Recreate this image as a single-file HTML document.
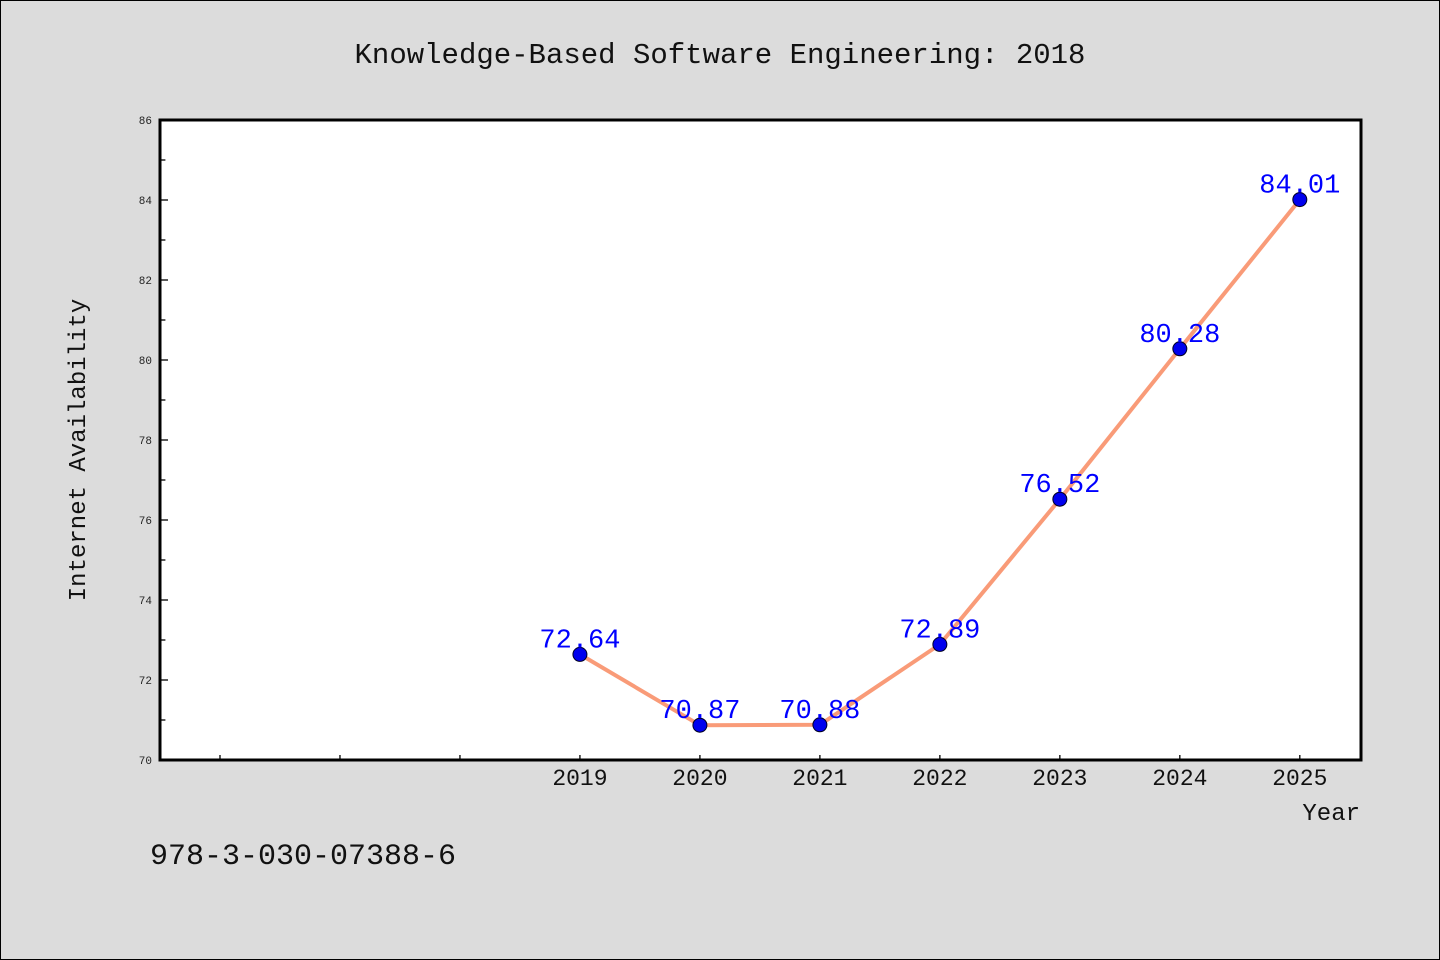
<!DOCTYPE html>
<html><head><meta charset="utf-8"><style>
html,body{margin:0;padding:0;background:#dcdcdc;}
svg{display:block;font-family:"WenQuanYi Zen Hei","Liberation Mono",monospace;}
</style></head><body>
<svg id="chart" width="1440" height="960" xmlns="http://www.w3.org/2000/svg">
<rect x="0.5" y="0.5" width="1439" height="959" fill="#dcdcdc" stroke="#000"/>
<text x="720" y="63" text-anchor="middle" font-size="29" fill="#111">Knowledge-Based Software Engineering: 2018</text>
<rect x="160" y="120" width="1201" height="640" fill="#fff"/>
<g id="yaxis"></g>
<g id="xaxis"></g>
<g id="series"></g>
<rect x="160" y="120" width="1201" height="640" fill="none" stroke="#000" stroke-width="3"/>
<text transform="translate(85,450) rotate(-90)" text-anchor="middle" font-size="24" fill="#111">Internet Availability</text>
<text x="1360" y="820" text-anchor="end" font-size="24" fill="#111">Year</text>
<text x="150" y="864" font-size="30" fill="#111">978-3-030-07388-6</text>
</svg>
<script>
const years = [2019, 2020, 2021, 2022, 2023, 2024, 2025];
const values = [72.64, 70.87, 70.88, 72.89, 76.52, 80.28, 84.01];
const valueLabels = ["72.64", "70.87", "70.88", "72.89", "76.52", "80.28", "84.01"];
const yTicks = [70, 72, 74, 76, 78, 80, 82, 84, 86];
const xTicks = [2016, 2017, 2018, 2019, 2020, 2021, 2022, 2023, 2024, 2025];
const xLabels = ["", "", "", "2019", "2020", "2021", "2022", "2023", "2024", "2025"];

const NS = "http://www.w3.org/2000/svg";
const X0 = 160, X1 = 1361, Y0 = 760, Y1 = 120;
const xMin = 2015.5, xMax = 2025.51, yMin = 70, yMax = 86;
function xs(v){ return X0 + (v - xMin) / (xMax - xMin) * (X1 - X0); }
function ys(v){ return Y0 - (v - yMin) / (yMax - yMin) * (Y0 - Y1); }
function mk(tag, attrs, parent){
  const e = document.createElementNS(NS, tag);
  for (const k in attrs) e.setAttribute(k, attrs[k]);
  parent.appendChild(e);
  return e;
}
const yg = document.getElementById('yaxis');
yTicks.forEach((t, i) => {
  const y = ys(t);
  const l = mk('line', {x1: X0, x2: X0 + 8, y1: y, y2: y, stroke: '#000', 'stroke-width': 1.3}, yg);
  
  
  if (i < yTicks.length - 1) {
    const my = ys(t + 1);
    const m = mk('line', {x1: X0, x2: X0 + 8 * 0.55 + 1, y1: my, y2: my, stroke: '#000', 'stroke-width': 1.3}, yg);
    
    
  }
  const tx = mk('text', {x: X0 - 8, y: y + 4, 'text-anchor': 'end', 'font-size': 11, fill: '#222'}, yg);
  tx.textContent = t;
  
  
});
const xg = document.getElementById('xaxis');
xTicks.forEach((t, i) => {
  const x = xs(t);
  const l = mk('line', {x1: x, x2: x, y1: Y0, y2: Y0 - 5, stroke: '#000', 'stroke-width': 1.3}, xg);
  
  
  if (xLabels[i]) {
    const tx = mk('text', {x: x, y: Y0 + 25, 'text-anchor': 'middle', 'font-size': 23, fill: '#111'}, xg);
    tx.textContent = xLabels[i];
    
    
  }
});
const sg = document.getElementById('series');
const pts = years.map((y, i) => xs(y) + ',' + ys(values[i])).join(' ');
const pl = mk('polyline', {points: pts, fill: 'none', stroke: '#f99b78', 'stroke-width': 4, 'stroke-linejoin': 'round'}, sg);


years.forEach((y, i) => {
  const c = mk('circle', {cx: xs(y), cy: ys(values[i]), r: 7, fill: '#0000ee', stroke: '#000022', 'stroke-width': 1}, sg);
  
  
});
years.forEach((y, i) => {
  const t = mk('text', {x: xs(y), y: ys(values[i]) - 7, 'text-anchor': 'middle', 'font-size': 27, fill: '#0000ff'}, sg);
  t.textContent = valueLabels[i];
  
  
});
</script>
</body></html>
